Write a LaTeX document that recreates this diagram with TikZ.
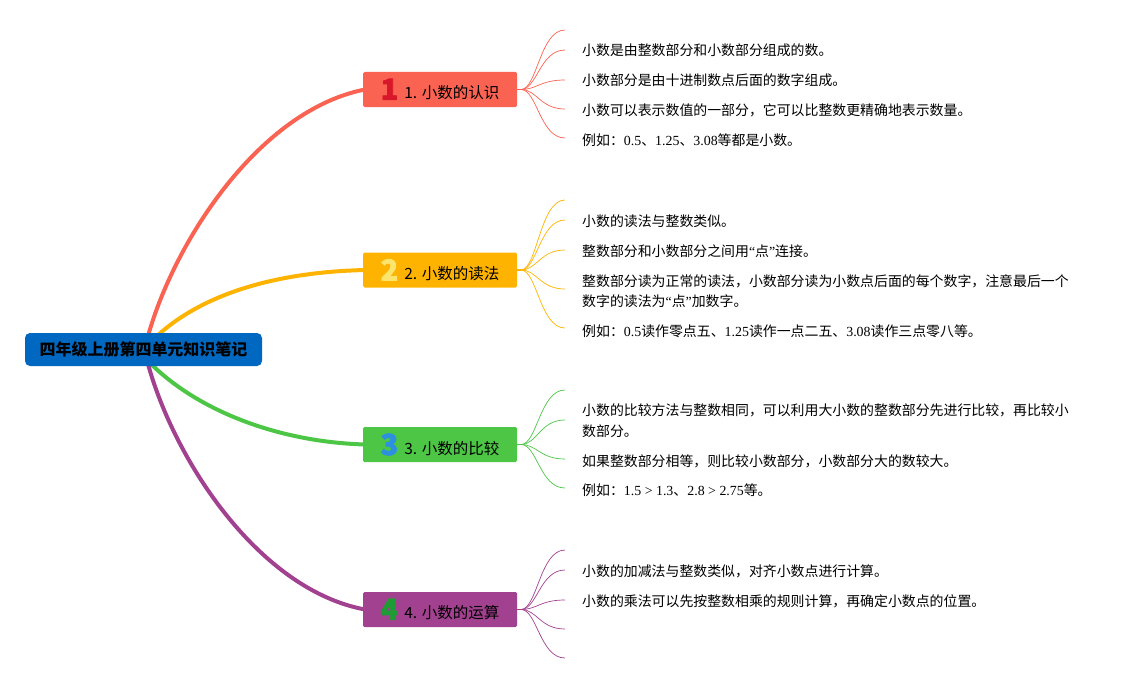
\documentclass[tikz,border=0pt]{standalone}
\usepackage{fontspec}
\setmainfont{Liberation Serif}
\newfontfamily\cjk{Noto Sans CJK SC}
\newfontfamily\numfont[FakeBold=2.5]{Noto Sans CJK SC}
\newfontfamily\lat{Liberation Serif}
\definecolor{cA}{HTML}{FA6352}
\definecolor{cB}{HTML}{FDB300}
\definecolor{cC}{HTML}{4DC646}
\definecolor{cD}{HTML}{A2418F}
\definecolor{cRoot}{HTML}{0068C0}
\definecolor{nA}{HTML}{D8182A}
\definecolor{nB}{HTML}{FBE56C}
\definecolor{nC}{HTML}{2C8FE0}
\definecolor{nD}{HTML}{1F9B36}
\tikzset{
  rootbox/.style={fill=cRoot, rounded corners=5pt, minimum width=237pt, minimum height=33pt, inner sep=0pt, font=\cjk\bfseries\fontsize{16}{16}\selectfont, text=black},
  topic/.style={fill=#1, rounded corners=1.5pt, minimum width=154pt, minimum height=35pt, inner sep=0pt, font=\cjk\fontsize{15.5}{16}\selectfont, text=black},
  leaf/.style={anchor=west, inner sep=0pt, align=left, font=\cjk\fontsize{13.9}{20.5}\selectfont, text=black},
  branch/.style={line width=4pt, draw=#1, line cap=round},
  twig/.style={line width=0.7pt, draw=#1},
}
\newcommand\bignum[2]{\raisebox{-1pt}{\color{#1}\numfont\bfseries\fontsize{29}{29}\selectfont #2}}
\begin{document}
\begin{tikzpicture}[x=1pt,y=-1pt]
\useasboundingbox (0,0) rectangle (1141,685);
% branches
\coordinate (r1) at (148,336);
\coordinate (r2) at (157,336);
\coordinate (r3) at (151,364);
\coordinate (r4) at (148,364);
\draw[branch=cA] (r1) .. controls (175,240) and (260,110) .. (365,89.5);
\draw[branch=cB] (r2) .. controls (205,292) and (280,272) .. (365,270);
\draw[branch=cC] (r3) .. controls (200,412) and (280,442) .. (365,444.5);
\draw[branch=cD] (r4) .. controls (175,462) and (260,590) .. (365,609.5);
% root
\node[rootbox] (root) at (143.5,349.5) {四年级上册第四单元知识笔记};
% topics
\node[topic=cA] (t1) at (440,89.5) {\bignum{nA}{1}\hspace{6pt}1. 小数的认识};
\node[topic=cB] (t2) at (440,270) {\bignum{nB}{2}\hspace{6pt}2. 小数的读法};
\node[topic=cC] (t3) at (440,444.5) {\bignum{nC}{3}\hspace{6pt}3. 小数的比较};
\node[topic=cD] (t4) at (440,609.5) {\bignum{nD}{4}\hspace{6pt}4. 小数的运算};
% fan origins
\coordinate (f1) at (521,89.5);
\coordinate (f2) at (521,270);
\coordinate (f3) at (521,444.5);
\coordinate (f4) at (521,609.5);
\draw[twig=cA, line width=1.2pt] (t1.east) -- (f1);
\draw[twig=cB, line width=1.2pt] (t2.east) -- (f2);
\draw[twig=cC, line width=1.2pt] (t3.east) -- (f3);
\draw[twig=cD, line width=1.2pt] (t4.east) -- (f4);
% group 1
\foreach \i/\y in {a/30,b/50,c/80,d/109,e/138}{
  \coordinate (e1\i) at (565,\y);
  \draw[twig=cA] (f1) .. controls (537,89.5) and (540,\y) .. (e1\i);
}
\node[leaf] (l1a) at (582,50) {小数是由整数部分和小数部分组成的数。};
\node[leaf] (l1b) at (582,80) {小数部分是由十进制数点后面的数字组成。};
\node[leaf] (l1c) at (582,110) {小数可以表示数值的一部分，它可以比整数更精确地表示数量。};
\node[leaf] (l1d) at (582,140) {例如：{\lat 0.5}、{\lat 1.25}、{\lat 3.08}等都是小数。};
% group 2
\foreach \i/\y in {a/200,b/220,c/250,d/289,e/328}{
  \coordinate (e2\i) at (565,\y);
  \draw[twig=cB] (f2) .. controls (537,270) and (540,\y) .. (e2\i);
}
\node[leaf] (l2a) at (582,221) {小数的读法与整数类似。};
\node[leaf] (l2b) at (582,251) {整数部分和小数部分之间用{\lat “}点{\lat ”}连接。};
\node[leaf] (l2c) at (582,291) {整数部分读为正常的读法，小数部分读为小数点后面的每个数字，注意最后一个\\数字的读法为{\lat “}点{\lat ”}加数字。};
\node[leaf] (l2d) at (582,331) {例如：{\lat 0.5}读作零点五、{\lat 1.25}读作一点二五、{\lat 3.08}读作三点零八等。};
% group 3
\foreach \i/\y in {a/390,b/420,c/459,d/488}{
  \coordinate (e3\i) at (565,\y);
  \draw[twig=cC] (f3) .. controls (537,444.5) and (540,\y) .. (e3\i);
}
\node[leaf] (l3a) at (582,420.5) {小数的比较方法与整数相同，可以利用大小数的整数部分先进行比较，再比较小\\数部分。};
\node[leaf] (l3b) at (582,461) {如果整数部分相等，则比较小数部分，小数部分大的数较大。};
\node[leaf] (l3c) at (582,490) {例如：{\lat 1.5 > 1.3}、{\lat 2.8 > 2.75}等。};
% group 4
\foreach \i/\y in {a/550,b/570,c/600,d/629,e/658}{
  \coordinate (e4\i) at (565,\y);
  \draw[twig=cD] (f4) .. controls (537,609.5) and (540,\y) .. (e4\i);
}
\node[leaf] (l4a) at (582,571) {小数的加减法与整数类似，对齐小数点进行计算。};
\node[leaf] (l4b) at (582,601) {小数的乘法可以先按整数相乘的规则计算，再确定小数点的位置。};
\end{tikzpicture}
\end{document}
